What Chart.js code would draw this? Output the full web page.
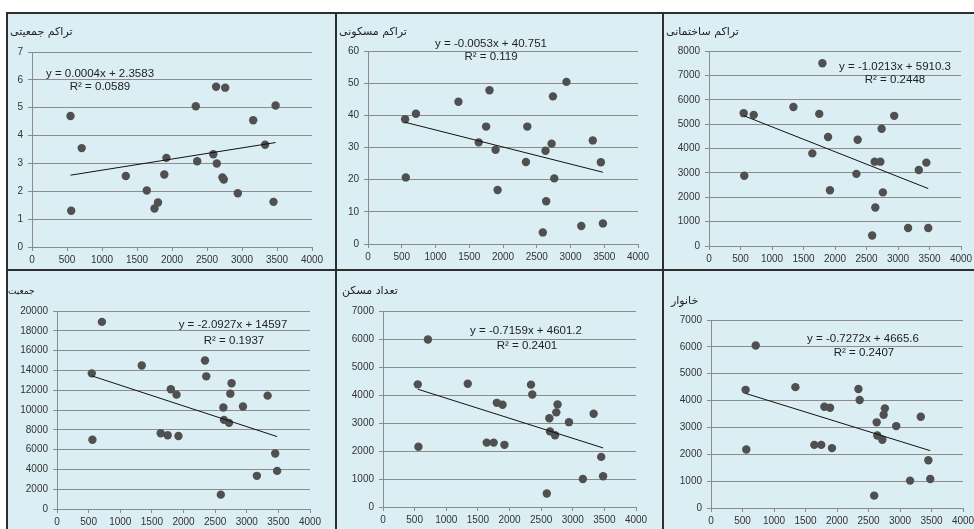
<!DOCTYPE html>
<html><head><meta charset="utf-8">
<script src="https://cdn.jsdelivr.net/npm/chart.js@4.4.0/dist/chart.umd.min.js"></script>
<style>
html,body{margin:0;padding:0;background:#fff;width:974px;height:529px;overflow:hidden;}
#frame{position:absolute;left:6px;top:12px;width:968px;height:517px;background:#2e2e2e;}
.panel{position:absolute;background:#dbeef4;}
.panel canvas{position:absolute;left:0;top:0;}
</style></head><body>
<div id="frame"></div>
<div class="panel" style="left:8px;top:14px;width:327px;height:255px"><canvas id="c0" width="327" height="255"></canvas></div>
<div class="panel" style="left:337px;top:14px;width:325px;height:255px"><canvas id="c1" width="325" height="255"></canvas></div>
<div class="panel" style="left:664px;top:14px;width:310px;height:255px"><canvas id="c2" width="310" height="255"></canvas></div>
<div class="panel" style="left:8px;top:271px;width:327px;height:258px"><canvas id="c3" width="327" height="258"></canvas></div>
<div class="panel" style="left:337px;top:271px;width:325px;height:258px"><canvas id="c4" width="325" height="258"></canvas></div>
<div class="panel" style="left:664px;top:271px;width:310px;height:258px"><canvas id="c5" width="310" height="258"></canvas></div>
<script>
// ---- data ----
const distance   = [550,560,710,1340,1640,1750,1800,1890,1920,2340,2360,2590,2630,2640,2720,2740,2760,2940,3160,3330,3450,3480];
const popDensity = [4.7,1.3,3.55,2.55,2.03,1.38,1.6,2.6,3.2,5.05,3.08,3.33,5.75,3.0,2.5,2.42,5.72,1.93,4.55,3.67,1.62,5.08];
const resDensity = [38.8,20.7,40.5,44.2,31.6,36.5,47.8,29.3,16.8,25.5,36.5,3.6,29,13.3,31.2,45.9,20.4,50.4,5.6,32.2,25.4,6.4];
const bldDensity = [5450,2880,5380,5700,3800,5420,7500,4470,2290,2960,4360,430,3460,1580,3460,4810,2200,5340,740,3120,3420,740];
const population = [13700,7000,18900,14500,7650,7450,12100,11550,7380,15000,13400,1450,10250,9000,8700,11650,12700,10350,3350,11450,5600,3850];
const dwellings  = [4380,2150,5980,4400,2300,2300,3720,3650,2220,4370,4020,480,3170,2700,2560,3380,3660,3030,1000,3330,1790,1100];
const households = [4400,2180,6050,4500,2350,2350,3770,3730,2230,4430,4020,460,3190,2700,2540,3470,3710,3050,1020,3400,1780,1080];

const trendX = [550,3480];
const trendPopDensity = [2.578,3.750];
const trendResDensity = [37.84,22.31];
const trendBldDensity = [5348.6,2356.2];
const trendPopulation = [13446,7314];
const trendDwellings  = [4207.5,2109.9];
const trendHouseholds = [4265.6,2134.9];

const titles = ['تراکم جمعیتی','تراکم مسکونی','تراکم ساختمانی','جمعیت','تعداد مسکن','خانوار'];
const equations = ['y = 0.0004x + 2.3583','y = -0.0053x + 40.751','y = -1.0213x + 5910.3','y = -2.0927x + 14597','y = -0.7159x + 4601.2','y = -0.7272x + 4665.6'];
const rSquared = ['R² = 0.0589','R² = 0.119','R² = 0.2448','R² = 0.1937','R² = 0.2401','R² = 0.2407'];
const yMax  = [7,60,8000,20000,7000,7000];
const yStep = [1,10,1000,2000,1000,1000];
const xMax = 4000, xStep = 500;

const series = [popDensity,resDensity,bldDensity,population,dwellings,households];
const trends = [trendPopDensity,trendResDensity,trendBldDensity,trendPopulation,trendDwellings,trendHouseholds];

// ---- layout (canvas-relative) ----
const layouts = [
  {l:24,r:23,t:38,b:22, tx:2,ty:18,tf:11, ex:92,ey:60, rx:92,ry:73},
  {l:31,r:24,t:37,b:25, tx:2,ty:18,tf:11, ex:154,ey:30, rx:154,ry:43},
  {l:45,r:13,t:37,b:23, tx:2,ty:18,tf:11, ex:231,ey:53, rx:231,ry:66},
  {l:49,r:25,t:40,b:20, tx:0,ty:21,tf:9, ex:225,ey:54, rx:226,ry:70},
  {l:46,r:26,t:40,b:22, tx:5,ty:20,tf:11, ex:189,ey:60, rx:190,ry:75},
  {l:47,r:11,t:49,b:21, tx:7,ty:30,tf:11, ex:199,ey:68, rx:200,ry:82}
];

const textPlugin = {
  id:'panelText',
  afterDraw(chart, args, o){
    const ctx = chart.ctx; ctx.save();
    ctx.fillStyle = '#222';
    ctx.textBaseline = 'middle';
    ctx.font = o.tf + 'px "DejaVu Sans"';
    ctx.textAlign = 'left';
    ctx.fillText(o.title, o.tx, o.ty);
    ctx.font = '11.5px "Liberation Sans"';
    ctx.textAlign = 'center';
    ctx.fillText(o.eq, o.ex, o.ey);
    ctx.fillText(o.r2, o.rx, o.ry);
    ctx.restore();
  }
};

const gridColor = '#8c8c8c';
const tickFont = {family:'"Liberation Sans", Arial, sans-serif', size:10};

for (let i=0;i<6;i++){
  const L = layouts[i];
  new Chart(document.getElementById('c'+i), {
    type:'scatter',
    data:{datasets:[
      {type:'scatter', data: distance.map((x,k)=>({x, y: series[i][k]})),
       backgroundColor:'#505050', borderColor:'#505050', pointRadius:4.2, pointHoverRadius:4.2, borderWidth:0, order:1},
      {type:'line', data: trendX.map((x,k)=>({x, y: trends[i][k]})),
       borderColor:'#111', borderWidth:1, pointRadius:0, fill:false, order:0}
    ]},
    options:{
      responsive:false, animation:false, devicePixelRatio:1,
      layout:{padding:{left:0,right:L.r,top:L.t,bottom:0}},
      plugins:{legend:{display:false}, tooltip:{enabled:false},
        panelText:{title:titles[i], tx:L.tx, ty:L.ty, tf:L.tf, eq:equations[i], ex:L.ex, ey:L.ey, r2:rSquared[i], rx:L.rx, ry:L.ry}},
      scales:{
        x:{type:'linear', min:0, max:xMax,
          ticks:{stepSize:xStep, color:'#333', font:tickFont, padding:3, maxRotation:0, autoSkip:false, callback:v=>String(v)},
          grid:{drawOnChartArea:false, drawTicks:true, tickLength:4, color:gridColor},
          border:{color:gridColor},
          afterFit(s){ s.height = L.b; s.paddingLeft = 0; s.paddingRight = 0; }
        },
        y:{type:'linear', min:0, max:yMax[i],
          ticks:{stepSize:yStep[i], color:'#333', font:tickFont, padding:5, autoSkip:false, callback:v=>String(v)},
          grid:{color:gridColor, tickLength:4},
          border:{color:gridColor},
          afterFit(s){ s.width = L.l; s.paddingTop = 0; s.paddingBottom = 0; }
        }
      }
    },
    plugins:[textPlugin]
  });
}
</script>
</body></html>
